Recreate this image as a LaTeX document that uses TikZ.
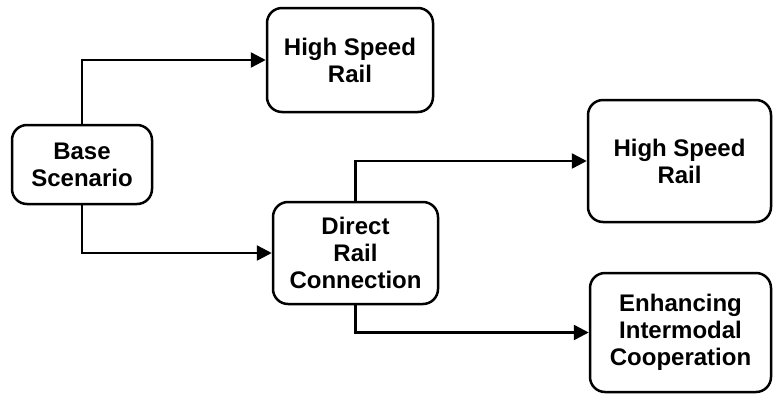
\documentclass[tikz,border=0pt]{standalone}
\usepackage{fontspec}
\setmainfont{Liberation Sans}
\usetikzlibrary{arrows.meta}

\begin{document}
\begin{tikzpicture}[x=1pt, y=-1pt,
    box/.style={draw, line width=2.5pt, rounded corners=15pt, align=center,
        font=\fontsize{24}{27}\selectfont\bfseries, inner sep=2pt},
    link/.style={line width=2.5pt, -{Triangle[length=15pt, width=15pt]}}]
    \useasboundingbox (0, 0) rectangle (773, 394);

    % Boxes
    \node[box, minimum width=140pt, minimum height=79pt]  (base)   at (82, 164.5)  {Base\\Scenario};
    \node[box, minimum width=166pt, minimum height=104pt] (hsrtop) at (350, 60)    {High Speed\\Rail};
    \node[box, minimum width=165pt, minimum height=102pt] (direct) at (355.5, 253) {Direct\\Rail\\Connection};
    \node[box, minimum width=183pt, minimum height=122pt] (hsrright) at (679.5, 161) {High Speed\\Rail};
    \node[box, minimum width=181pt, minimum height=119pt] (intermodal) at (680.5, 332.5) {Enhancing\\Intermodal\\Cooperation};

    % Connectors
    \draw[link] (base.north) |- (hsrtop.west);
    \draw[link] (base.south) |- (direct.west);
    \draw[link] (direct.north) |- (hsrright.west);
    \draw[link] (direct.south) |- (intermodal.west);
\end{tikzpicture}
\end{document}
